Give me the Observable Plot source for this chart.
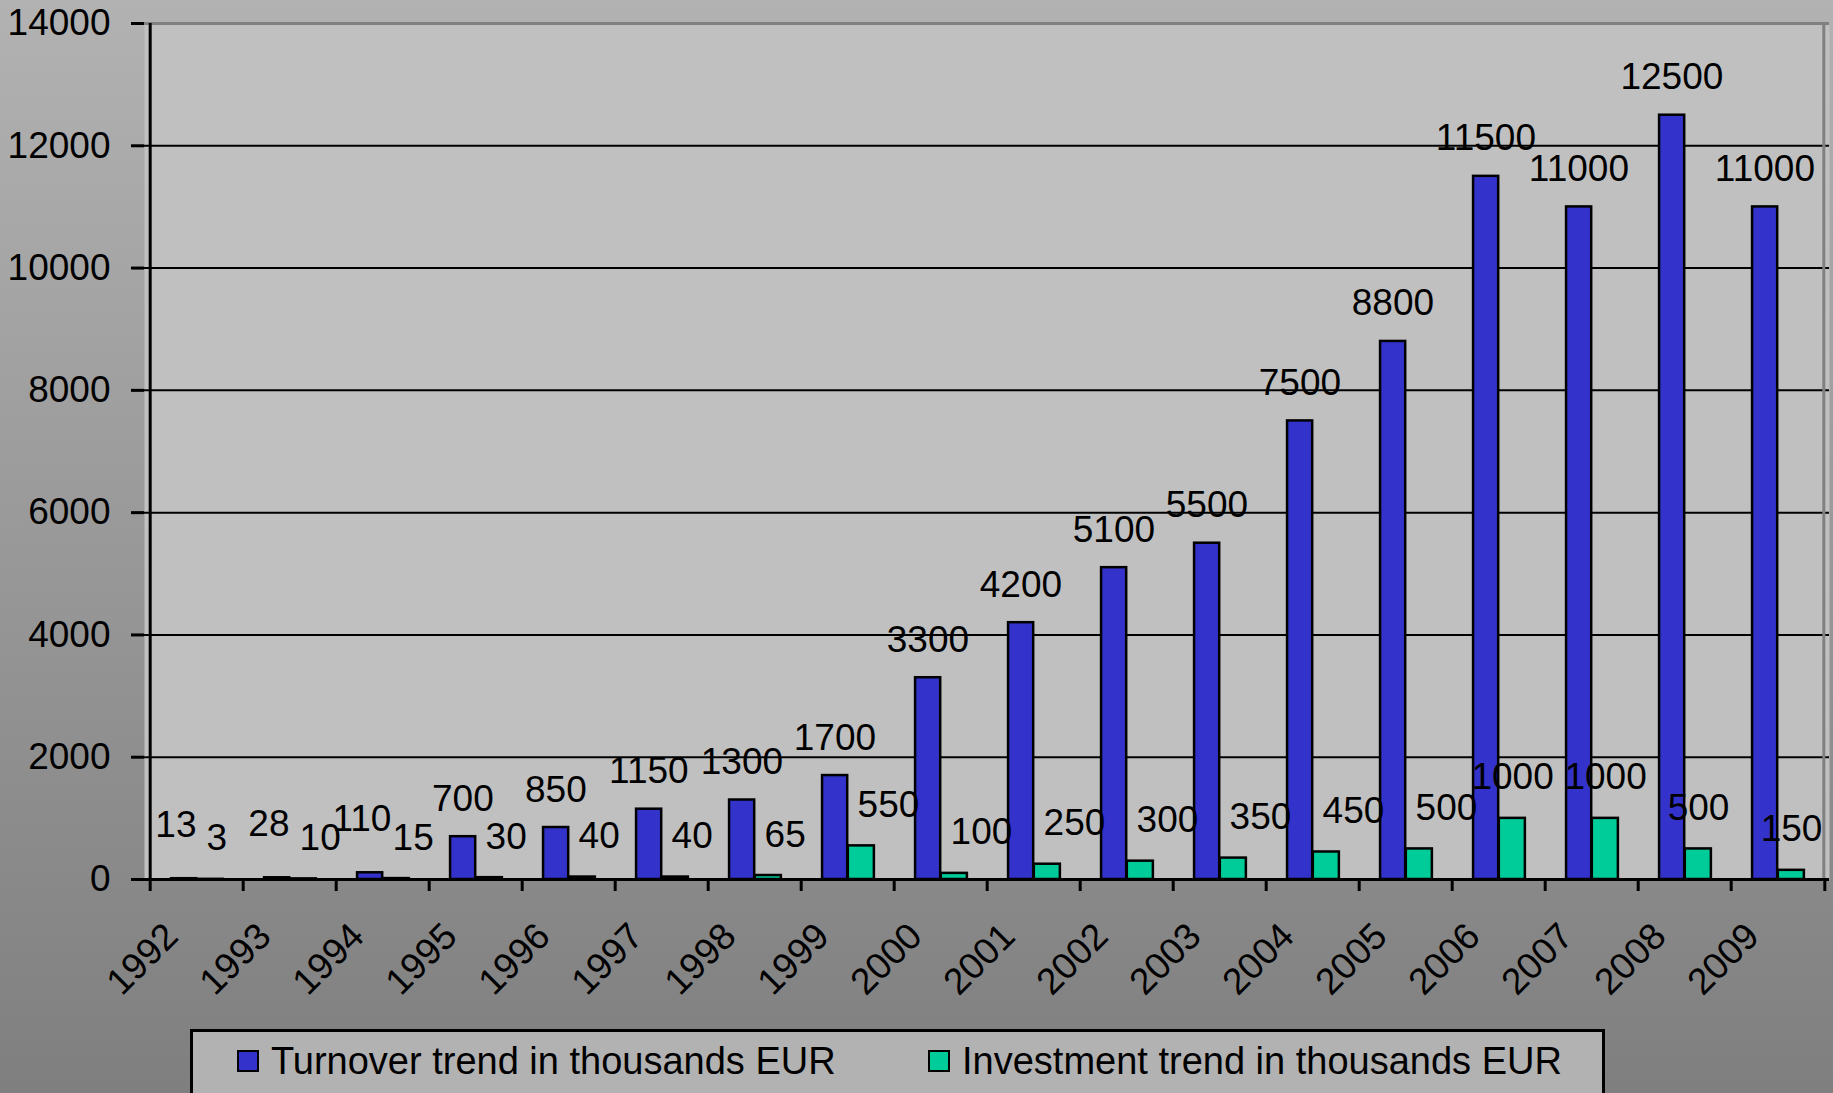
<!DOCTYPE html>
<html><head><meta charset="utf-8">
<script src="https://cdn.jsdelivr.net/npm/d3@7"></script>
<script src="https://cdn.jsdelivr.net/npm/@observablehq/plot@0.6"></script>
<style>
html,body{margin:0;padding:0;}
#root{position:relative;width:1833px;height:1093px;overflow:hidden;background:linear-gradient(to bottom,#b2b2b2 0%,#7f7f7f 100%);font-family:"Liberation Sans",Arial,sans-serif;}
#chart{position:absolute;left:0;top:0;}
#legend{position:absolute;left:190px;top:1029px;width:1415px;height:120px;box-sizing:border-box;border:3px solid #000;background:#b2b2b2;}
.item{position:absolute;top:0;height:58px;display:flex;align-items:center;font-size:38px;color:#000;white-space:nowrap;}
.sw{width:22px;height:22px;box-sizing:border-box;border:2.5px solid #000;margin-right:12px;}
</style></head>
<body><div id="root"><div id="chart"></div><div id="legend"></div></div>
<script>
const years = ["1992","1993","1994","1995","1996","1997","1998","1999","2000","2001","2002","2003","2004","2005","2006","2007","2008","2009"];
const turnover = [13,28,110,700,850,1150,1300,1700,3300,4200,5100,5500,7500,8800,11500,11000,12500,11000];
const investment = [3,10,15,30,40,40,65,550,100,250,300,350,450,500,1000,1000,500,150];
const seriesNames = ["Turnover trend in thousands EUR","Investment trend in thousands EUR"];
const seriesColors = ["#3333cc","#00cc99"];
const yTicks = [0,2000,4000,6000,8000,10000,12000,14000];
const gridTicks = [2000,4000,6000,8000,10000,12000];
// in the reference, investment labels from this year on are centred on their bar
const centredLabelsFrom = "2006";
// turnover labels of very small bars sit a little higher and further left
const smallTurnover = 500;

const data = years.map((y,i)=>({year:y, turnover:turnover[i], investment:investment[i]}));

const width = 1833, height = 1010;
const mL = 144, mR = 4, mT = 23, mB = height - 879;
const W = (width - mL - mR) / years.length;
const fs = 37;
const lbl = {lineAnchor: "bottom", fontSize: fs, fill: "#000"};

const chart = Plot.plot({
  width, height,
  marginLeft: mL, marginRight: mR, marginTop: mT, marginBottom: mB,
  style: {fontFamily: "'Liberation Sans', Arial, sans-serif", fontSize: fs + "px", background: "transparent", color: "#000"},
  x: {type: "band", domain: years, paddingInner: 0, paddingOuter: 0, axis: null},
  y: {domain: [0, 14000], axis: null},
  marks: [
    Plot.frame({fill: "#c0c0c0", stroke: null}),
    Plot.ruleY(gridTicks, {stroke: "#000", strokeWidth: 2}),
    Plot.ruleY([14000], {stroke: "#808080", strokeWidth: 3}),
    Plot.ruleX([years[years.length-1]], {dx: W/2 - 1, stroke: "#808080", strokeWidth: 3}),
    Plot.barY(data, {x: "year", y: "turnover", fill: seriesColors[0], stroke: "#000", strokeWidth: 2.5, insetLeft: 0.225*W, insetRight: 0.5*W}),
    Plot.barY(data, {x: "year", y: "investment", fill: seriesColors[1], stroke: "#000", strokeWidth: 2.5, insetLeft: 0.5*W, insetRight: 0.215*W}),
    Plot.ruleX([years[0]], {dx: -W/2, stroke: "#000", strokeWidth: 3}),
    Plot.ruleY([0], {stroke: "#000", strokeWidth: 3}),
    Plot.axisY(yTicks, {tickSize: 13, tickPadding: 21, fontSize: fs, strokeWidth: 3, tickFormat: d3.format("d"), label: null}),
    Plot.axisX(years, {tickSize: 12, dx: -W/2, strokeWidth: 3, tickFormat: () => "", label: null}),
    Plot.axisX([years[years.length-1]], {tickSize: 12, dx: W/2, strokeWidth: 3, tickFormat: () => "", label: null}),
    Plot.text(data.filter(d => d.turnover >= smallTurnover), {x: "year", y: "turnover", text: d => String(d.turnover), dx: -0.14*W, dy: -26, ...lbl}),
    Plot.text(data.filter(d => d.turnover < smallTurnover), {x: "year", y: "turnover", text: d => String(d.turnover), dx: -0.14*W - 8, dy: -42, ...lbl}),
    Plot.text(data.filter(d => d.year < centredLabelsFrom), {x: "year", y: "investment", text: d => String(d.investment), dx: 0.145*W - 4, dy: -29, textAnchor: "start", ...lbl}),
    Plot.text(data.filter(d => d.year >= centredLabelsFrom), {x: "year", y: "investment", text: d => String(d.investment), dx: 0.145*W, dy: -29, ...lbl}),
    Plot.text(years, {x: d => d, frameAnchor: "bottom", dy: 59, dx: -17, rotate: -45, textAnchor: "end", lineAnchor: "bottom", fontSize: fs, fill: "#000"})
  ]
});
document.getElementById("chart").appendChild(chart);

const legend = d3.select("#legend");
const lefts = [44, 735];
seriesNames.forEach((name, i) => {
  const it = legend.append("div").attr("class", "item").style("left", lefts[i] + "px");
  it.append("div").attr("class", "sw").style("background", seriesColors[i]);
  it.append("span").text(name);
});
</script>
</body></html>
